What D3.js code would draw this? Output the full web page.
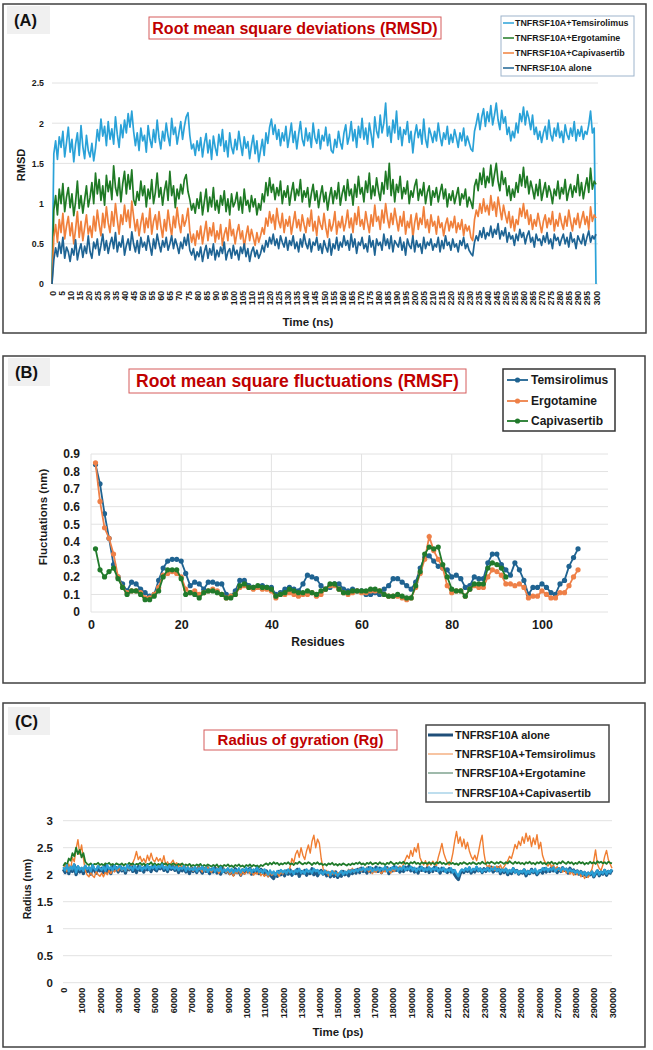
<!DOCTYPE html>
<html><head><meta charset="utf-8">
<script src="https://cdn.jsdelivr.net/npm/d3@7"></script>
<style>body{margin:0;background:#fff}svg{display:block}text{font-family:"Liberation Sans",Arial,sans-serif}</style>
</head><body><svg id="chart" width="653" height="1050"></svg>
<script>
// ---------------- Panel A: RMSD (ns) ----------------
const rmsdTime = d3.range(0, 301, 1);
const rmsdXTicks = d3.range(0, 301, 5);
const rmsdYTicks = [0, 0.5, 1, 1.5, 2, 2.5];
const rmsdTemsirolimus = [0,
1.62,1.78,1.55,1.83,1.70,1.90,1.58,1.76,1.95,1.64,
1.80,1.52,1.74,1.88,1.60,1.97,1.71,1.56,1.85,1.66,
1.58,1.75,1.53,1.69,1.92,1.78,2.05,1.84,1.96,1.72,
2.02,1.80,1.93,1.74,2.08,1.86,1.70,1.98,1.82,2.04,
1.88,2.12,1.95,2.15,1.90,1.72,1.88,1.66,1.94,1.78,
1.85,1.64,1.97,1.80,1.70,1.92,1.76,2.04,1.82,1.68,
1.90,1.78,2.00,1.84,1.72,2.06,1.86,1.95,1.74,1.88,
2.02,1.80,1.96,2.08,2.13,1.85,1.68,1.74,1.60,1.78,
1.66,1.82,1.58,1.75,1.87,1.63,1.79,1.55,1.84,1.70,
1.60,1.86,1.72,1.92,1.65,1.78,1.58,1.88,1.70,1.62,
1.80,1.67,1.90,1.74,1.60,1.83,1.69,1.77,1.56,1.72,
1.85,1.62,1.78,1.52,1.66,1.80,1.60,1.88,1.75,1.95,
2.05,1.86,1.98,1.80,1.92,1.72,1.88,1.78,1.96,1.70,
1.84,2.00,1.76,1.90,1.68,1.86,2.02,1.80,1.72,1.94,
1.78,1.88,1.70,2.00,1.82,1.75,1.92,1.68,1.85,1.78,
1.95,1.72,1.86,1.66,1.63,1.80,1.70,1.90,1.76,1.68,
1.88,1.98,1.74,1.84,2.02,1.78,1.92,1.70,1.96,1.82,
2.06,1.80,1.94,1.74,2.00,1.86,1.70,2.08,1.90,1.82,
2.10,1.88,2.00,2.25,1.84,1.96,1.76,2.04,1.88,2.15,
1.80,1.95,1.72,1.92,1.86,2.02,1.76,1.90,1.63,1.85,
1.98,1.82,1.92,1.74,2.05,1.80,1.70,1.94,1.86,1.76,
1.90,1.78,2.00,1.84,1.72,1.88,1.80,1.96,1.74,1.86,
1.76,1.92,1.82,1.70,1.88,1.78,1.94,1.72,1.84,1.76,
1.68,1.65,1.90,2.00,2.12,1.92,2.08,2.18,1.96,2.14,
2.02,2.22,1.98,2.10,2.25,2.04,1.92,2.16,2.00,2.08,
1.86,1.95,1.78,1.90,1.82,2.00,1.88,2.12,2.02,2.20,
1.98,2.15,2.06,1.92,2.10,1.86,1.95,1.80,1.90,1.76,
1.88,1.96,1.80,2.04,1.86,1.78,1.94,1.84,2.00,1.82,
1.90,1.76,1.98,1.86,1.80,1.94,1.84,2.02,1.78,1.92,
1.84,1.96,1.80,1.90,1.86,1.98,2.15,1.88,1.94,0];
const rmsdErgotamine = [0,
0.92,1.10,0.86,1.18,1.00,1.25,0.90,1.08,1.20,0.95,
1.12,0.85,1.02,1.28,0.94,1.10,0.88,1.05,1.22,0.96,
1.08,1.26,1.00,1.38,1.12,1.30,1.04,1.22,0.98,1.35,
1.15,1.28,1.05,1.47,1.20,1.10,1.32,1.02,1.25,1.40,
1.12,1.36,1.18,1.42,1.05,0.98,1.15,1.04,1.28,1.10,
1.22,0.96,1.18,1.06,1.30,1.00,1.14,1.38,1.08,1.20,
0.98,1.16,1.28,1.04,1.40,1.10,1.22,0.95,1.18,1.06,
1.24,1.12,1.30,1.36,1.15,1.05,0.92,1.00,0.88,1.06,
0.94,1.14,0.86,1.02,1.18,0.90,1.08,0.96,1.20,0.92,
1.04,0.88,1.10,0.98,1.16,0.90,1.06,0.86,1.12,0.96,
1.02,1.14,0.92,1.08,0.88,1.18,0.98,1.04,0.90,1.10,
0.96,1.06,0.86,1.00,0.92,1.12,1.02,1.26,1.10,1.32,
1.14,1.24,1.05,1.20,1.10,1.28,1.00,1.16,1.08,1.22,
0.98,1.14,1.26,1.04,1.18,1.10,1.30,1.02,1.16,1.08,
1.20,0.96,1.12,1.24,1.04,1.16,0.95,1.10,1.22,1.02,
1.14,0.92,1.08,1.20,1.00,1.16,1.06,1.26,0.98,1.12,
1.22,1.04,1.30,1.10,1.18,0.98,1.24,1.08,1.34,1.12,
1.20,1.02,1.28,1.14,1.38,1.06,1.22,1.10,1.32,1.16,
1.04,1.26,1.12,1.40,1.18,1.50,1.10,1.30,1.02,1.24,
1.14,1.34,1.06,1.20,1.12,1.28,1.00,1.16,1.08,1.22,
1.30,1.04,1.18,1.10,1.26,1.00,1.14,1.22,0.98,1.16,
1.08,1.20,1.02,1.14,1.24,1.06,1.18,0.96,1.12,1.04,
1.16,1.00,1.10,1.20,0.98,1.12,1.06,1.18,0.96,1.08,
1.02,0.94,1.22,1.30,1.16,1.38,1.24,1.44,1.20,1.34,
1.26,1.48,1.22,1.36,1.50,1.28,1.16,1.40,1.24,1.32,
1.10,1.22,1.04,1.18,1.08,1.26,1.14,1.36,1.22,1.45,
1.20,1.34,1.12,1.28,1.18,1.06,1.24,1.10,1.30,1.04,
1.16,1.26,1.08,1.22,1.14,1.00,1.18,1.10,1.28,1.06,
1.20,1.12,1.30,1.04,1.16,1.24,1.08,1.22,1.14,1.36,
1.10,1.26,1.06,1.20,1.32,1.14,1.44,1.18,1.28,1.24];
const rmsdCapivasertib = [0,
0.58,0.74,0.52,0.80,0.64,0.88,0.56,0.72,0.84,0.60,
0.76,0.50,0.68,0.90,0.58,0.78,0.54,0.70,0.86,0.62,
0.72,0.58,0.84,0.66,0.92,0.74,0.60,0.88,0.70,0.96,
0.76,0.64,0.90,0.72,1.00,0.80,0.62,0.86,0.74,0.98,
0.78,0.92,0.70,1.03,0.84,0.66,0.80,0.60,0.76,0.88,
0.64,0.82,0.70,0.94,0.62,0.78,0.86,0.68,0.90,0.72,
0.58,0.80,0.66,0.92,0.74,0.60,0.84,0.70,0.95,0.76,
0.64,0.86,0.72,0.80,0.94,0.66,0.52,0.62,0.48,0.66,
0.56,0.72,0.50,0.64,0.78,0.54,0.70,0.60,0.76,0.52,
0.66,0.56,0.74,0.48,0.62,0.70,0.54,0.80,0.60,0.68,
0.50,0.64,0.74,0.56,0.66,0.46,0.60,0.72,0.54,0.68,
0.58,0.48,0.64,0.52,0.60,0.70,0.62,0.82,0.72,0.90,
0.76,0.86,0.68,0.94,0.78,0.70,0.88,0.64,0.80,0.72,
0.84,0.62,0.76,0.90,0.70,0.80,0.66,0.86,0.74,0.64,
0.82,0.72,0.92,0.66,0.78,0.60,0.84,0.74,0.68,0.88,
0.70,0.58,0.80,0.66,0.74,0.90,0.62,0.78,0.70,0.84,
0.66,0.76,0.92,0.70,0.82,0.64,0.88,0.74,0.96,0.72,
0.80,0.68,0.90,0.76,0.64,0.86,0.72,0.98,0.78,0.84,
0.68,0.92,0.76,1.00,0.82,0.70,0.88,0.74,0.94,0.80,
0.66,0.84,0.72,0.90,0.62,0.78,0.70,0.86,0.58,0.76,
0.88,0.68,0.82,0.74,0.96,0.70,0.80,0.64,0.86,0.72,
0.78,0.62,0.84,0.70,0.76,0.60,0.74,0.82,0.66,0.78,
0.70,0.84,0.64,0.76,0.68,0.80,0.60,0.74,0.66,0.72,
0.58,0.54,0.80,0.92,0.84,1.00,0.88,1.06,0.90,0.98,
0.86,1.10,0.92,1.02,0.84,1.08,0.94,0.80,0.98,0.86,
0.76,0.90,0.70,0.84,0.66,0.80,0.74,0.94,0.84,1.00,
0.82,0.92,0.74,0.86,0.68,0.80,0.72,0.88,0.76,0.64,
0.78,0.86,0.70,0.82,0.74,0.90,0.66,0.80,0.72,0.88,
0.76,0.68,0.84,0.72,0.92,0.78,0.66,0.82,0.74,0.88,
0.70,0.80,0.90,0.74,0.84,0.68,0.96,0.78,0.86,0.82];
const rmsdAlone = [0,
0.30,0.45,0.34,0.52,0.38,0.58,0.32,0.46,0.40,0.28,
0.44,0.36,0.55,0.30,0.42,0.50,0.33,0.47,0.38,0.60,
0.40,0.32,0.52,0.44,0.56,0.36,0.48,0.62,0.42,0.54,
0.38,0.50,0.58,0.44,0.64,0.40,0.52,0.46,0.60,0.36,
0.48,0.56,0.42,0.65,0.50,0.40,0.54,0.38,0.58,0.46,
0.52,0.42,0.60,0.48,0.36,0.56,0.44,0.62,0.50,0.40,
0.54,0.46,0.58,0.42,0.50,0.60,0.44,0.56,0.48,0.38,
0.52,0.44,0.58,0.48,0.62,0.42,0.36,0.44,0.30,0.40,
0.34,0.46,0.28,0.40,0.48,0.32,0.44,0.36,0.50,0.30,
0.42,0.34,0.46,0.38,0.52,0.30,0.40,0.44,0.32,0.48,
0.36,0.42,0.30,0.46,0.38,0.50,0.34,0.44,0.28,0.40,
0.46,0.34,0.42,0.32,0.38,0.48,0.40,0.54,0.46,0.58,
0.50,0.62,0.48,0.56,0.44,0.60,0.52,0.46,0.58,0.42,
0.54,0.48,0.60,0.44,0.52,0.40,0.56,0.46,0.62,0.50,
0.44,0.56,0.40,0.52,0.48,0.58,0.42,0.50,0.38,0.54,
0.46,0.40,0.56,0.36,0.50,0.44,0.58,0.42,0.52,0.46,
0.60,0.48,0.54,0.42,0.62,0.46,0.56,0.38,0.52,0.48,
0.58,0.44,0.50,0.40,0.60,0.46,0.54,0.36,0.56,0.48,
0.52,0.42,0.62,0.48,0.56,0.44,0.60,0.40,0.54,0.50,
0.46,0.58,0.42,0.52,0.36,0.56,0.48,0.44,0.60,0.40,
0.54,0.46,0.50,0.38,0.58,0.44,0.52,0.48,0.56,0.42,
0.50,0.46,0.58,0.40,0.54,0.44,0.60,0.48,0.52,0.42,
0.56,0.46,0.50,0.40,0.54,0.48,0.58,0.44,0.50,0.42,
0.38,0.35,0.52,0.60,0.54,0.66,0.58,0.70,0.56,0.64,
0.60,0.72,0.58,0.68,0.62,0.75,0.56,0.66,0.60,0.70,
0.52,0.64,0.56,0.60,0.48,0.62,0.54,0.68,0.58,0.64,
0.50,0.60,0.66,0.52,0.58,0.46,0.62,0.54,0.56,0.48,
0.60,0.52,0.64,0.50,0.56,0.44,0.62,0.54,0.58,0.48,
0.56,0.62,0.50,0.58,0.46,0.64,0.52,0.56,0.44,0.60,
0.54,0.50,0.62,0.48,0.58,0.66,0.52,0.60,0.56,0.62];
const rmsdNames = ["TNFRSF10A+Temsirolimus","TNFRSF10A+Ergotamine","TNFRSF10A+Capivasertib","TNFRSF10A alone"];
const rmsdColors = ["#2AA2D8","#1F7A25","#F0803C","#1E6494"];

// ---------------- Panel B: RMSF ----------------
const rmsfResidues = d3.range(1, 109);
const rmsfXTicks = [0, 20, 40, 60, 80, 100];
const rmsfYTicks = [0, 0.1, 0.2, 0.3, 0.4, 0.5, 0.6, 0.7, 0.8, 0.9];
const rmsfTemsirolimus = [
0.84,0.73,0.56,0.42,0.27,0.20,0.16,0.12,0.17,0.16,
0.13,0.11,0.09,0.10,0.18,0.25,0.29,0.30,0.30,0.29,
0.22,0.15,0.17,0.16,0.13,0.17,0.17,0.16,0.16,0.10,
0.09,0.12,0.18,0.18,0.15,0.14,0.14,0.15,0.14,0.14,
0.10,0.11,0.13,0.14,0.13,0.12,0.16,0.21,0.20,0.19,
0.15,0.13,0.14,0.16,0.16,0.13,0.12,0.13,0.12,0.12,
0.10,0.10,0.11,0.10,0.13,0.15,0.19,0.19,0.17,0.15,
0.13,0.17,0.25,0.31,0.32,0.29,0.26,0.25,0.24,0.20,
0.21,0.19,0.14,0.15,0.20,0.19,0.19,0.28,0.33,0.33,
0.27,0.24,0.21,0.28,0.24,0.18,0.10,0.14,0.14,0.16,
0.14,0.11,0.10,0.16,0.18,0.26,0.31,0.36];
const rmsfErgotamine = [
0.85,0.63,0.48,0.42,0.33,0.20,0.14,0.11,0.12,0.12,
0.11,0.08,0.08,0.10,0.14,0.21,0.22,0.23,0.22,0.20,
0.13,0.11,0.12,0.10,0.11,0.12,0.13,0.12,0.10,0.08,
0.09,0.10,0.14,0.15,0.14,0.13,0.14,0.13,0.13,0.12,
0.08,0.10,0.10,0.11,0.10,0.09,0.10,0.10,0.11,0.09,
0.10,0.13,0.15,0.15,0.13,0.11,0.10,0.11,0.12,0.11,
0.11,0.12,0.12,0.12,0.10,0.09,0.09,0.09,0.08,0.07,
0.08,0.14,0.22,0.30,0.43,0.35,0.30,0.25,0.15,0.11,
0.12,0.12,0.09,0.13,0.15,0.14,0.14,0.20,0.24,0.23,
0.21,0.16,0.16,0.15,0.16,0.14,0.08,0.09,0.09,0.12,
0.10,0.08,0.08,0.11,0.11,0.15,0.20,0.24];
const rmsfCapivasertib = [
0.36,0.24,0.20,0.23,0.25,0.19,0.14,0.10,0.12,0.12,
0.10,0.07,0.07,0.09,0.12,0.20,0.24,0.24,0.24,0.19,
0.10,0.11,0.10,0.08,0.11,0.12,0.12,0.11,0.10,0.08,
0.08,0.10,0.15,0.16,0.14,0.14,0.15,0.14,0.14,0.13,
0.09,0.10,0.11,0.13,0.12,0.11,0.11,0.12,0.11,0.10,
0.12,0.13,0.16,0.16,0.13,0.11,0.11,0.12,0.12,0.12,
0.12,0.13,0.13,0.12,0.10,0.09,0.09,0.10,0.09,0.08,
0.08,0.15,0.23,0.33,0.37,0.36,0.37,0.27,0.20,0.13,
0.12,0.12,0.09,0.13,0.16,0.16,0.16,0.25,0.28,0.27,
0.25,0.20];
const rmsfNames = ["Temsirolimus","Ergotamine","Capivasertib"];
const rmsfColors = ["#1F6391","#EE8048","#217A2B"];

// ---------------- Panel C: Radius of gyration ----------------
const rgTime = d3.range(0, 300001, 1000);
const rgXTicks = d3.range(0, 300001, 10000);
const rgYTicks = [0, 0.5, 1, 1.5, 2, 2.5, 3];
const rgAlone = [
2.10,2.04,2.16,2.02,2.12,2.06,2.18,2.00,2.14,2.05,2.11,
2.02,2.15,2.06,2.12,2.01,2.16,2.08,2.03,2.14,2.07,
2.12,2.04,2.17,2.06,2.10,2.02,2.15,2.08,2.13,2.05,
2.16,2.07,2.12,2.03,2.14,2.09,2.18,2.06,2.11,2.04,
2.15,2.08,2.12,2.05,2.17,2.09,2.13,2.06,2.16,2.10,
2.07,2.14,2.11,2.18,2.08,2.13,2.06,2.16,2.10,2.15,
2.08,2.14,2.04,2.12,2.07,2.15,2.05,2.11,2.02,2.13,
2.06,2.12,2.04,2.14,2.08,2.03,2.11,2.06,2.13,2.02,
2.10,2.05,2.13,2.03,2.09,2.01,2.12,2.06,2.04,2.10,
2.02,2.08,2.00,2.11,2.04,2.07,1.99,2.09,2.03,2.10,
2.05,2.12,2.01,2.08,2.04,2.13,2.02,2.10,2.06,2.00,
2.07,1.98,2.04,1.96,1.93,2.02,1.97,2.06,2.00,2.05,
1.98,2.07,2.01,2.09,1.99,2.05,2.02,2.10,1.97,2.06,
2.03,2.08,1.99,2.06,2.02,2.11,2.00,2.07,1.98,2.04,
2.08,2.01,2.06,1.98,2.04,1.96,2.03,1.97,2.05,1.95,
2.01,1.97,2.06,2.00,2.04,1.98,2.07,2.02,2.08,2.03,
2.10,2.04,2.12,2.06,2.09,2.03,2.13,2.05,2.11,2.07,
2.14,2.06,2.12,2.04,2.10,2.08,2.13,2.02,2.11,2.07,
2.15,2.08,2.12,2.05,2.10,2.06,2.14,2.09,2.16,2.07,
2.12,2.05,2.10,2.03,2.14,2.08,2.11,2.06,2.13,2.04,
2.10,2.06,2.14,2.08,2.11,2.03,2.12,2.07,2.09,2.04,
2.11,2.05,2.08,2.00,1.95,1.91,2.02,2.08,2.04,2.10,
2.06,2.12,2.03,2.09,2.05,2.13,2.07,2.10,2.04,2.11,
2.06,2.12,2.08,2.14,2.05,2.10,2.07,2.13,2.02,2.09,
2.04,2.10,2.00,2.07,2.02,2.11,2.05,2.08,2.01,2.06,
2.03,2.09,1.98,2.06,2.02,2.10,2.04,2.07,2.00,2.05,
2.08,2.03,2.11,2.05,2.09,2.06,2.13,2.07,2.10,2.04,
2.11,2.06,2.13,2.08,2.10,2.03,2.12,2.06,2.09,2.02,
2.07,2.01,2.06,1.99,2.04,1.97,2.03,2.00,2.05,1.96,
2.02,2.07,1.98,2.05,2.01,2.08,1.99,2.06,2.03,2.09];
const rgTemsirolimus = [
2.12,2.18,2.06,2.20,2.10,2.32,2.24,2.48,2.65,2.38,2.55,
2.30,2.08,2.00,1.96,2.04,1.98,1.95,2.06,2.00,1.97,
2.03,1.96,2.05,2.00,2.08,2.02,2.10,2.05,2.12,2.07,
2.14,2.08,2.11,2.06,2.13,2.09,2.16,2.22,2.30,2.43,
2.28,2.34,2.24,2.30,2.22,2.36,2.26,2.40,2.28,2.24,
2.32,2.25,2.30,2.22,2.35,2.18,2.24,2.16,2.22,2.27,
2.18,2.22,2.15,2.20,2.12,2.18,2.08,2.16,2.10,2.14,
2.06,2.13,2.08,2.15,2.10,2.05,2.12,2.07,2.14,2.09,
2.04,2.11,2.06,2.13,2.02,2.09,2.05,2.12,2.03,2.08,
2.00,2.07,1.97,2.05,2.02,2.10,1.98,2.06,2.01,2.04,
2.08,2.02,2.06,1.99,2.04,2.01,2.07,1.98,2.03,1.97,
2.02,1.96,2.04,1.99,2.06,2.00,2.03,1.97,2.05,2.01,
2.08,2.02,2.06,2.14,2.30,2.22,2.38,2.45,2.32,2.50,
2.36,2.28,2.44,2.55,2.40,2.62,2.73,2.50,2.66,2.58,
2.30,2.12,2.04,2.08,1.98,2.06,2.01,2.07,1.99,2.04,
2.02,2.08,2.00,2.06,2.03,2.10,2.05,2.12,2.04,2.09,
2.07,2.13,2.06,2.11,2.08,2.14,2.05,2.10,2.02,2.08,
2.04,2.11,2.06,2.02,2.09,2.05,2.12,2.08,2.03,2.10,
2.06,2.13,2.08,2.16,2.12,2.20,2.28,2.36,2.30,2.45,
2.34,2.50,2.42,2.58,2.32,2.24,2.18,2.26,2.16,2.22,
2.18,2.25,2.20,2.16,2.32,2.44,2.58,2.40,2.30,2.22,
2.18,2.24,2.40,2.62,2.80,2.58,2.70,2.52,2.66,2.48,
2.60,2.44,2.34,2.28,2.36,2.26,2.42,2.60,2.73,2.40,
2.20,2.14,2.18,2.10,2.15,2.08,2.16,2.12,2.18,2.10,
2.15,2.20,2.26,2.34,2.30,2.42,2.56,2.48,2.62,2.54,
2.70,2.58,2.77,2.62,2.72,2.52,2.68,2.56,2.74,2.48,
2.60,2.36,2.26,2.20,2.16,2.22,2.14,2.18,2.10,2.15,
2.08,2.12,2.05,2.10,2.03,2.08,2.01,2.06,1.99,2.04,
2.00,2.05,1.96,2.02,1.93,1.98,1.95,2.03,2.10,2.25,
2.46,2.20,2.12,2.08,2.18,2.34,2.45,2.28,2.20,2.12];
const rgErgotamine = [
2.16,2.22,2.18,2.30,2.26,2.40,2.34,2.50,2.38,2.46,2.32,
2.40,2.24,2.20,2.18,2.21,2.17,2.20,2.19,2.22,2.18,
2.20,2.17,2.21,2.19,2.22,2.18,2.20,2.17,2.21,2.19,
2.18,2.21,2.17,2.20,2.18,2.22,2.19,2.21,2.17,2.20,
2.19,2.22,2.18,2.21,2.17,2.20,2.19,2.23,2.18,2.21,
2.17,2.20,2.18,2.22,2.19,2.21,2.17,2.20,2.18,2.21,
2.19,2.17,2.20,2.18,2.21,2.16,2.19,2.17,2.20,2.16,
2.18,2.16,2.19,2.17,2.20,2.15,2.18,2.16,2.19,2.17,
2.15,2.18,2.16,2.19,2.14,2.17,2.15,2.18,2.16,2.19,
2.15,2.17,2.14,2.18,2.16,2.19,2.15,2.17,2.14,2.18,
2.16,2.19,2.15,2.18,2.16,2.17,2.14,2.18,2.16,2.19,
2.21,2.18,2.22,2.19,2.23,2.20,2.22,2.18,2.21,2.19,
2.22,2.20,2.23,2.19,2.21,2.18,2.22,2.20,2.24,2.21,
2.19,2.22,2.20,2.23,2.21,2.18,2.22,2.20,2.23,2.19,
2.21,2.18,2.20,2.17,2.21,2.19,2.22,2.18,2.20,2.17,
2.20,2.18,2.21,2.19,2.17,2.20,2.18,2.21,2.19,2.22,
2.20,2.23,2.19,2.21,2.18,2.22,2.20,2.23,2.19,2.21,
2.22,2.19,2.23,2.20,2.21,2.18,2.22,2.20,2.24,2.21,
2.19,2.22,2.20,2.23,2.21,2.24,2.20,2.22,2.19,2.23,
2.21,2.24,2.20,2.22,2.19,2.23,2.21,2.22,2.20,2.23,
2.20,2.22,2.19,2.23,2.21,2.24,2.20,2.22,2.19,2.21,
2.23,2.20,2.22,2.19,2.21,2.18,2.22,2.20,2.23,2.21,
2.19,2.22,2.20,2.23,2.21,2.19,2.22,2.20,2.24,2.21,
2.20,2.23,2.21,2.24,2.22,2.20,2.23,2.21,2.24,2.22,
2.20,2.23,2.21,2.25,2.22,2.20,2.24,2.21,2.23,2.20,
2.22,2.19,2.23,2.21,2.24,2.20,2.22,2.19,2.23,2.21,
2.24,2.20,2.22,2.19,2.23,2.21,2.24,2.20,2.22,2.19,
2.23,2.21,2.25,2.22,2.20,2.24,2.21,2.23,2.19,2.22,
2.20,2.24,2.21,2.23,2.19,2.22,2.20,2.24,2.21,2.23,
2.20,2.25,2.22,2.24,2.21,2.23,2.20,2.24,2.22,2.21];
const rgCapivasertib = [
2.14,2.08,2.18,2.06,2.15,2.10,2.19,2.04,2.16,2.09,2.13,
2.07,2.17,2.10,2.14,2.06,2.18,2.11,2.08,2.16,2.12,
2.09,2.15,2.07,2.18,2.11,2.14,2.08,2.17,2.10,2.13,
2.16,2.09,2.14,2.07,2.18,2.11,2.15,2.08,2.17,2.12,
2.10,2.16,2.08,2.14,2.11,2.18,2.09,2.15,2.12,2.17,
2.10,2.16,2.13,2.19,2.11,2.15,2.09,2.17,2.12,2.14,
2.10,2.15,2.08,2.13,2.11,2.16,2.07,2.14,2.09,2.12,
2.08,2.14,2.06,2.12,2.10,2.15,2.07,2.13,2.05,2.11,
2.08,2.13,2.05,2.11,2.07,2.14,2.04,2.10,2.06,2.12,
2.05,2.11,2.03,2.09,2.06,2.12,2.04,2.10,2.07,2.13,
2.06,2.11,2.04,2.10,2.07,2.13,2.05,2.09,2.03,2.10,
2.05,2.00,2.08,2.02,2.06,1.99,2.07,2.03,2.09,2.04,
2.08,2.02,2.10,2.04,2.07,2.01,2.09,2.05,2.11,2.03,
2.07,2.02,2.10,2.05,2.08,2.03,2.11,2.06,2.09,2.02,
2.06,2.01,2.08,2.03,2.05,1.99,2.07,2.02,2.04,1.98,
2.03,2.07,2.00,2.06,2.02,2.08,2.04,2.09,2.05,2.10,
2.06,2.11,2.08,2.13,2.07,2.12,2.09,2.14,2.06,2.11,
2.08,2.13,2.07,2.12,2.09,2.15,2.06,2.11,2.08,2.14,
2.10,2.15,2.07,2.13,2.09,2.16,2.08,2.12,2.10,2.15,
2.08,2.13,2.06,2.12,2.09,2.15,2.07,2.11,2.08,2.14,
2.07,2.12,2.09,2.14,2.06,2.11,2.08,2.13,2.05,2.10,
2.07,2.12,2.04,2.09,2.02,1.97,2.06,2.10,2.07,2.12,
2.08,2.14,2.06,2.11,2.09,2.15,2.07,2.12,2.05,2.10,
2.08,2.13,2.06,2.12,2.09,2.14,2.07,2.11,2.05,2.10,
2.06,2.11,2.03,2.09,2.05,2.12,2.04,2.08,2.02,2.07,
2.04,2.10,2.01,2.07,2.03,2.09,2.05,2.11,2.02,2.08,
2.06,2.12,2.08,2.13,2.07,2.11,2.09,2.14,2.06,2.10,
2.12,2.07,2.13,2.09,2.11,2.05,2.10,2.06,2.08,2.03,
2.07,2.02,2.06,2.00,2.05,1.98,2.04,2.01,2.06,1.97,
2.03,2.08,2.00,2.06,2.02,2.09,2.01,2.07,2.04,2.10];
const rgNames = ["TNFRSF10A alone","TNFRSF10A+Temsirolimus","TNFRSF10A+Ergotamine","TNFRSF10A+Capivasertib"];
const rgColors = ["#1F5B88","#F07E32","#1F7A2A","#2A9FD6"];
const rgLegendColors = ["#1F4E79","#F4B183","#7FA38F","#A9D3E8"];

// ---------------- drawing ----------------
const svg = d3.select("#chart");
const DARK = "#1a1a1a";
const GRID = "#e2e2e2";
const TITLE_RED = "#C00000";

function frame(x0, y0, x1, y1) {
  svg.append("rect").attr("x", x0).attr("y", y0).attr("width", x1 - x0).attr("height", y1 - y0)
    .attr("fill", "#fff").attr("stroke", "#404040").attr("stroke-width", 1.5);
}
function panelLabel(x0, y0, x1, y1, txt) {
  svg.append("rect").attr("x", x0).attr("y", y0).attr("width", x1 - x0).attr("height", y1 - y0).attr("fill", "#f0f0f0");
  svg.append("text").attr("x", x0 + 7).attr("y", (y0 + y1) / 2).attr("dy", "0.35em")
    .attr("font-size", 16.5).attr("font-weight", 600).attr("fill", "#111").text(txt);
}
function titleBox(x0, y0, x1, y1, txt, fs) {
  svg.append("rect").attr("x", x0).attr("y", y0).attr("width", x1 - x0).attr("height", y1 - y0)
    .attr("fill", "#fff").attr("stroke", "#D65C5C").attr("stroke-width", 1);
  svg.append("text").attr("x", (x0 + x1) / 2).attr("y", (y0 + y1) / 2).attr("dy", "0.36em")
    .attr("text-anchor", "middle").attr("font-size", fs).attr("font-weight", "bold")
    .attr("fill", TITLE_RED).text(txt);
}
function styleAxis(g, fs) {
  g.select(".domain").remove();
  g.selectAll(".tick line").remove();
  g.selectAll("text").attr("font-family", '"Liberation Sans",Arial,sans-serif')
    .attr("font-weight", "bold").attr("font-size", fs).attr("fill", DARK);
}
function axisTitle(x, y, txt, fs, rotate) {
  const t = svg.append("text").attr("text-anchor", "middle").attr("dy", "0.35em")
    .attr("font-size", fs).attr("font-weight", "bold").attr("fill", DARK).text(txt);
  if (rotate) t.attr("transform", `translate(${x},${y}) rotate(-90)`);
  else t.attr("x", x).attr("y", y);
}

// ===== Panel A =====
frame(3, 4, 646, 333);
panelLabel(7, 6, 50, 34, "(A)");
titleBox(149, 17, 441, 39, "Root mean square deviations (RMSD)", 16);
{
  const x = d3.scaleLinear().domain([0, 300]).range([52, 596]);
  const y = d3.scaleLinear().domain([0, 2.5]).range([284, 83]);
  svg.append("g").selectAll("line").data(rmsdYTicks).join("line")
    .attr("x1", 52).attr("x2", 598).attr("y1", d => y(d)).attr("y2", d => y(d))
    .attr("stroke", GRID).attr("stroke-width", 1);
  const ya = svg.append("g").attr("transform", "translate(44,0)")
    .call(d3.axisLeft(y).tickValues(rmsdYTicks).tickSize(0).tickPadding(0).tickFormat(d => d));
  styleAxis(ya, 8.8);
  const xa = svg.append("g").attr("transform", "translate(0,284)")
    .call(d3.axisBottom(x).tickValues(rmsdXTicks).tickSize(0).tickFormat(d => d));
  styleAxis(xa, 8.6);
  xa.selectAll("text").attr("transform", "rotate(-90)").attr("text-anchor", "end")
    .attr("x", -7).attr("y", 0).attr("dy", "0.35em");
  const series = [rmsdTemsirolimus, rmsdErgotamine, rmsdCapivasertib, rmsdAlone];
  const line = d3.line().x((d, i) => x(rmsdTime[i])).y(d => y(d));
  series.forEach((s, k) => {
    svg.append("path").datum(s).attr("d", line).attr("fill", "none")
      .attr("stroke", rmsdColors[k]).attr("stroke-width", 1.7).attr("stroke-linejoin", "round");
  });
  axisTitle(21, 165, "RMSD", 11, true);
  axisTitle(308, 322, "Time (ns)", 11.5, false);
  // legend
  svg.append("rect").attr("x", 501).attr("y", 16).attr("width", 133).attr("height", 60)
    .attr("fill", "#fff").attr("stroke", "#9DB4CC").attr("stroke-width", 1);
  const rows = [23, 38, 53, 68];
  rmsdNames.forEach((n, k) => {
    svg.append("line").attr("x1", 503).attr("x2", 514).attr("y1", rows[k]).attr("y2", rows[k])
      .attr("stroke", rmsdColors[k]).attr("stroke-width", 1.5);
    svg.append("text").attr("x", 515).attr("y", rows[k]).attr("dy", "0.35em")
      .attr("font-size", 8.9).attr("font-weight", "bold").attr("fill", DARK).text(n);
  });
}

// ===== Panel B =====
frame(3, 356, 645, 683);
panelLabel(8, 358, 50, 386, "(B)");
titleBox(129, 369, 466, 393, "Root mean square fluctuations (RMSF)", 17.5);
{
  const x = d3.scaleLinear().domain([0, 115]).range([91, 609.6]);
  const y = d3.scaleLinear().domain([0, 0.9]).range([612, 454]);
  const g = svg.append("g");
  g.selectAll("line.h").data(rmsfYTicks).join("line").attr("class", "h")
    .attr("x1", 91).attr("x2", 608).attr("y1", d => y(d)).attr("y2", d => y(d))
    .attr("stroke", GRID).attr("stroke-width", 1);
  g.selectAll("line.v").data(rmsfXTicks).join("line").attr("class", "v")
    .attr("x1", d => x(d)).attr("x2", d => x(d)).attr("y1", y(0)).attr("y2", y(0.9))
    .attr("stroke", GRID).attr("stroke-width", 1);
  const ya = svg.append("g").attr("transform", "translate(80,0)")
    .call(d3.axisLeft(y).tickValues(rmsfYTicks).tickSize(0).tickPadding(0).tickFormat(d => d));
  styleAxis(ya, 12);
  const xa = svg.append("g").attr("transform", "translate(0,620)")
    .call(d3.axisBottom(x).tickValues(rmsfXTicks).tickSize(0).tickPadding(0).tickFormat(d => d));
  styleAxis(xa, 12.5);
  const series = [rmsfTemsirolimus, rmsfErgotamine, rmsfCapivasertib];
  const line = d3.line().x((d, i) => x(rmsfResidues[i])).y(d => y(d));
  series.forEach((s, k) => {
    svg.append("path").datum(s).attr("d", line).attr("fill", "none")
      .attr("stroke", rmsfColors[k]).attr("stroke-width", 1.8);
    svg.append("g").selectAll("circle").data(s).join("circle")
      .attr("cx", (d, i) => x(rmsfResidues[i])).attr("cy", d => y(d)).attr("r", 2.6)
      .attr("fill", rmsfColors[k]);
  });
  axisTitle(43, 517, "Fluctuations (nm)", 11.5, true);
  axisTitle(318, 642, "Residues", 12, false);
  svg.append("rect").attr("x", 503).attr("y", 369).attr("width", 112).attr("height", 62)
    .attr("fill", "#fff").attr("stroke", "#333").attr("stroke-width", 1.5);
  const rows = [380, 401, 421];
  rmsfNames.forEach((n, k) => {
    svg.append("line").attr("x1", 507).attr("x2", 528).attr("y1", rows[k]).attr("y2", rows[k])
      .attr("stroke", rmsfColors[k]).attr("stroke-width", 1.8);
    svg.append("circle").attr("cx", 517.5).attr("cy", rows[k]).attr("r", 2.6).attr("fill", rmsfColors[k]);
    svg.append("text").attr("x", 531).attr("y", rows[k]).attr("dy", "0.35em")
      .attr("font-size", 12).attr("font-weight", "bold").attr("fill", DARK).text(n);
  });
}

// ===== Panel C =====
frame(3, 703, 645, 1047);
panelLabel(8, 707, 50, 735, "(C)");
titleBox(204, 730, 397, 750, "Radius of gyration (Rg)", 15);
{
  const x = d3.scaleLinear().domain([0, 300000]).range([63.3, 612]);
  const y = d3.scaleLinear().domain([0, 3]).range([982.7, 820.7]);
  svg.append("g").selectAll("line").data(rgYTicks).join("line")
    .attr("x1", 63).attr("x2", 612).attr("y1", d => y(d)).attr("y2", d => y(d))
    .attr("stroke", GRID).attr("stroke-width", 1);
  const ya = svg.append("g").attr("transform", "translate(53,0)")
    .call(d3.axisLeft(y).tickValues(rgYTicks).tickSize(0).tickPadding(0).tickFormat(d => d));
  styleAxis(ya, 11.5);
  const xa = svg.append("g").attr("transform", "translate(0,982.7)")
    .call(d3.axisBottom(x).tickValues(rgXTicks).tickSize(0).tickFormat(d => d));
  styleAxis(xa, 9.2);
  xa.selectAll("text").attr("transform", "rotate(-90)").attr("text-anchor", "end")
    .attr("x", -5).attr("y", 0).attr("dy", "0.35em");
  const series = [rgAlone, rgTemsirolimus, rgErgotamine, rgCapivasertib];
  const widths = [3.2, 1.4, 1.8, 2.2];
  const line = d3.line().x((d, i) => x(rgTime[i])).y(d => y(d));
  series.forEach((s, k) => {
    svg.append("path").datum(s).attr("d", line).attr("fill", "none")
      .attr("stroke", rgColors[k]).attr("stroke-width", widths[k]).attr("stroke-linejoin", "round");
  });
  axisTitle(27, 889, "Radius (nm)", 10.5, true);
  axisTitle(338, 1032, "Time (ps)", 11.5, false);
  svg.append("rect").attr("x", 426).attr("y", 725).attr("width", 183).attr("height", 77)
    .attr("fill", "#fff").attr("stroke", "#444").attr("stroke-width", 1.5);
  const rows = [735, 754, 773, 793];
  const lw = [3, 1.5, 1.5, 1.5];
  rgNames.forEach((n, k) => {
    svg.append("line").attr("x1", 428).attr("x2", 453).attr("y1", rows[k]).attr("y2", rows[k])
      .attr("stroke", rgLegendColors[k]).attr("stroke-width", lw[k]);
    svg.append("text").attr("x", 455).attr("y", rows[k]).attr("dy", "0.35em")
      .attr("font-size", 11).attr("font-weight", "bold").attr("fill", DARK).text(n);
  });
}
</script></body></html>
